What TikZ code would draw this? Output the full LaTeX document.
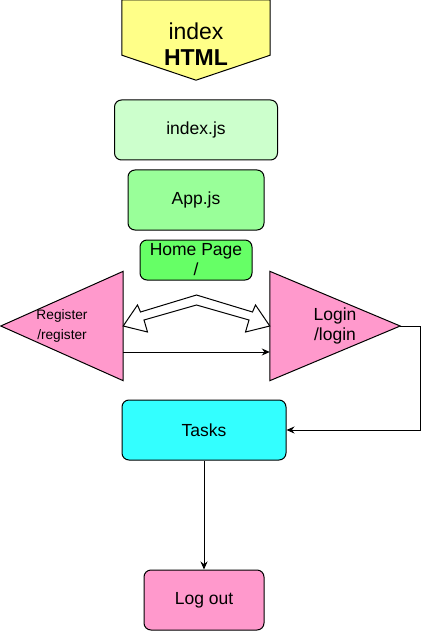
\documentclass[tikz,border=0pt]{standalone}
\usepackage{fontspec}
\setmainfont{Liberation Sans}
\usepackage{tikz}
\usetikzlibrary{arrows.meta}
\usetikzlibrary{positioning,calc,backgrounds}
\tikzset{
    flow/.style={
        draw,
        -{Stealth[length=8pt, width=7pt]},
        line width=1pt
    }
}
\usepackage{xcolor}
\definecolor{notepad}{HTML}{FFFF88}
\definecolor{palegreen}{HTML}{CCFFCC}
\definecolor{midgreen}{HTML}{99FF99}
\definecolor{brightgreen}{HTML}{66FF66}
\definecolor{pagepink}{HTML}{FF99CC}
\definecolor{taskcyan}{HTML}{33FFFF}

\begin{document}
\begin{tikzpicture}[x=1pt, y=-1pt]
  % Define styles for boxes and shapes
  \tikzset{
    box/.style={
      draw,
      rounded corners=7pt,
      line width=1pt,
      inner sep=0pt,
      align=center,
      font=\fontsize{17.5}{20}\selectfont
    },
    page/.style={
      inner sep=0pt,
      align=center,
      font=\fontsize{17.5}{20}\selectfont
    },
    outline/.style={
      draw=black,
      line width=1pt,
      line join=miter
    }
  }
  \useasboundingbox (0,0) rectangle (430,631);

  % Create the file boxes
  \node[page, minimum width=148pt, minimum height=88pt, font=\fontsize{23}{26}\selectfont] (html) at (196,44) {index\\\textbf{HTML}};
  \node[box, fill=palegreen, minimum width=163pt, minimum height=60pt] (indexjs) at (196,130) {index.js};
  \node[box, fill=midgreen, minimum width=136pt, minimum height=60pt] (appjs) at (196,200) {App.js};
  \node[box, fill=brightgreen, minimum width=112pt, minimum height=40pt] (home) at (196,260) {Home Page\\/};

  % Create the two route triangles
  \node[page, minimum width=122pt, minimum height=109pt, font=\fontsize{13.7}{20}\selectfont] (reg) at (62,326) {Register\\/register};
  \node[page, minimum width=130pt, minimum height=109pt] (login) at (335,326) {Login\\/login};

  % Create the lower boxes
  \node[box, fill=taskcyan, minimum width=164pt, minimum height=60pt] (tasks) at (204,430) {Tasks};
  \node[box, fill=pagepink, minimum width=120pt, minimum height=60pt] (logout) at (204,600) {Log out};

  % Shapes behind the texts
  \begin{scope}[on background layer]
    \draw[outline, fill=notepad] (html.north west) -- (html.north east) -- ([yshift=33pt]html.south east)
      -- ([yshift=8pt]html.south) -- ([yshift=33pt]html.south west) -- cycle;
    \draw[outline, fill=pagepink] (reg.west) -- (reg.north east) -- (reg.south east) -- cycle;
    \draw[outline, fill=pagepink] (login.north west) -- (login.east) -- (login.south west) -- cycle;
  \end{scope}

  % Bent double block arrow between register and login
  \coordinate (mid) at ($(reg.east)!0.5!(login.west)$);
  \draw[outline, fill=white] (reg.east) -- ($(mid)+(-59,-21)$) -- ($(mid)+(-56,-14)$) -- ($(mid)+(0,-31)$)
    -- ($(mid)+(56,-14)$) -- ($(mid)+(59,-21)$) -- (login.west) -- ($(mid)+(49,6)$)
    -- ($(mid)+(52.5,-6)$) -- ($(mid)+(0,-21)$) -- ($(mid)+(-52.5,-6)$) -- ($(mid)+(-49,6)$) -- cycle;

  % Connect edges
  \draw[flow] ([yshift=-26pt]reg.east) -- ([yshift=-26pt]login.west);
  \draw[flow] (login.east) -- ++(20,0) |- (tasks.east);
  \draw[flow] (tasks) -- (logout);
\end{tikzpicture}
\end{document}
